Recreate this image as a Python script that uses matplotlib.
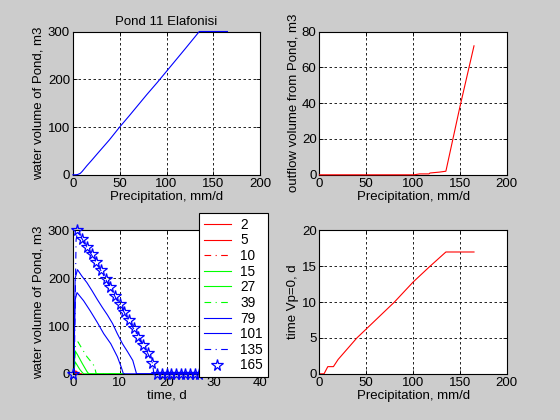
import numpy as np
import matplotlib.pyplot as plt

plt.rcParams['font.family'] = ['Liberation Sans', 'DejaVu Sans']
plt.rcParams['font.size'] = 9.5

# pond volume vs precipitation
precip = [0, 2, 5, 8, 10, 15, 20, 27, 39, 50, 60, 79, 90, 101, 120, 135, 150, 165]
pond_vol = [0, 0, 0.5, 3, 7, 19, 30, 46, 73, 100, 123, 168, 193, 219, 264, 300, 300, 300]

# outflow vs precipitation
precip_out = [0, 101, 107, 117, 118, 128, 135, 150, 165]
outflow = [0, 0, 0.5, 0.5, 1, 1.5, 2, 38, 72]

# time until Vp=0 vs precipitation
precip_t = [0, 5, 9, 15, 20, 30, 40, 60, 80, 100, 118, 135, 150, 165]
t_empty = [0, 0, 1, 1, 2, 3.5, 5, 7.5, 10, 12.8, 15, 17, 17, 17]

# pond volume over time, one run per precipitation value
labels = ['2', '5', '10', '15', '27', '39', '79', '101', '135', '165']
t_2 = [0, 0.5, 1, 1.8]
v_2 = [0, 0, 0, 0]
t_5 = [0, 0.3, 0.6, 1.2, 1.8]
v_5 = [0, 0, 1, 0.5, 0]
t_10 = [0, 0.3, 0.6, 1.0, 1.5, 2.0]
v_10 = [0, 0, 6, 4, 2, 0]
t_15 = [0, 0.2, 0.5, 1.0, 1.5, 2.0, 2.3, 11]
v_15 = [0, 0, 25, 17, 9, 3, 0, 0]
t_27 = [0, 0.2, 0.5, 1.0, 2.0, 3.0, 3.4, 11]
v_27 = [0, 0, 48, 40, 22, 5, 0, 0]
t_39 = [0, 0.2, 0.6, 1.1, 2.0, 3.0, 4.0, 4.6, 5.0, 11]
v_39 = [0, 0, 60, 67, 52, 36, 24, 16, 0, 0]
t_79 = [0, 0.2, 0.5, 0.9, 2.3, 3.7, 5.2, 6.6, 8.1, 9.5, 10.3, 10.8, 27]
v_79 = [0, 0, 155, 170, 153, 132, 108, 84, 63, 36, 15, 0, 0]
t_101 = [0, 0.2, 0.5, 1.0, 1.9, 3.0, 4.1, 5.2, 6.3, 7.4, 8.5, 9.5, 10.6, 11.7, 12.8, 13.6, 27]
v_101 = [0, 0, 200, 218, 205, 191, 174, 156, 139, 123, 105, 84, 63, 46, 28, 0, 0]
t_135 = [0, 0.3, 0.7, 1, 2, 3, 4, 5, 6, 7, 8, 9, 10, 11, 12, 13, 14, 15, 16, 17, 17.3, 27]
v_135 = [0, 0, 280, 298, 282, 265, 249, 233, 216, 198, 180, 162, 145, 128, 111, 94, 77, 60, 43, 22, 0, 0]
t_165 = list(range(0, 28))
v_165 = [0, 300, 283, 265, 250, 235, 217, 199, 181, 163, 146, 129, 112, 95, 78, 61, 44, 23,
         0, 0, 0, 0, 0, 0, 0, 0, 0, 0]

bg = '#cccccc'
dashdot = (0, (6, 4, 1, 4))
fig = plt.figure(figsize=(5.6, 4.2), dpi=100, facecolor=bg)


def style(ax):
    ax.set_facecolor('white')
    ax.grid(True, color='black', linestyle=(0, (3, 3)), linewidth=0.6)
    ax.tick_params(direction='in', top=True, right=True, length=3, width=0.6, pad=2)
    for s in ax.spines.values():
        s.set_linewidth(0.8)


ax1 = fig.add_axes([0.13, 0.5838, 0.3347, 0.3412])
ax1.plot(precip, pond_vol, color='blue', lw=0.8, clip_on=False, zorder=3)
ax1.set_xlim(0, 200)
ax1.set_ylim(0, 300)
ax1.set_xticks([0, 50, 100, 150, 200])
ax1.set_yticks([0, 100, 200, 300])
ax1.set_xlabel('Precipitation, mm/d', labelpad=1)
ax1.set_ylabel('water volume of Pond, m3', labelpad=2)
ax1.set_title('Pond 11 Elafonisi', fontsize=9.5, pad=5)
style(ax1)

ax2 = fig.add_axes([0.5703, 0.5838, 0.3347, 0.3412])
ax2.plot(precip_out, outflow, color='red', lw=0.8, clip_on=False, zorder=3)
ax2.set_xlim(0, 200)
ax2.set_ylim(0, 80)
ax2.set_xticks([0, 50, 100, 150, 200])
ax2.set_yticks([0, 20, 40, 60, 80])
ax2.set_xlabel('Precipitation, mm/d', labelpad=1)
ax2.set_ylabel('outflow volume from Pond, m3', labelpad=2)
style(ax2)

ax3 = fig.add_axes([0.13, 0.11, 0.3347, 0.3412])
ax3.plot(t_2, v_2, color='red', ls='-', lw=0.8, label=labels[0])
ax3.plot(t_5, v_5, color='red', ls='-', lw=0.8, label=labels[1])
ax3.plot(t_10, v_10, color='red', ls=dashdot, lw=0.8, label=labels[2])
ax3.plot(t_15, v_15, color='#00ff00', ls='-', lw=0.8, label=labels[3])
ax3.plot(t_27, v_27, color='#00ff00', ls='-', lw=0.8, label=labels[4])
ax3.plot(t_39, v_39, color='#00ff00', ls=dashdot, lw=0.8, label=labels[5])
ax3.plot(t_79, v_79, color='blue', ls='-', lw=0.8, label=labels[6])
ax3.plot(t_101, v_101, color='blue', ls='-', lw=0.8, label=labels[7])
ax3.plot(t_135, v_135, color='blue', ls=dashdot, lw=0.8, label=labels[8])
ax3.plot(t_165, v_165, color='blue', ls='none', marker='*', ms=8.5, mfc='none',
         mew=0.9, label=labels[9], clip_on=False, zorder=4)
ax3.set_xlim(0, 40)
ax3.set_ylim(0, 300)
ax3.set_xticks([0, 10, 20, 30, 40])
ax3.set_yticks([0, 100, 200, 300])
ax3.set_xlabel('time, d', labelpad=1)
ax3.set_ylabel('water volume of Pond, m3', labelpad=2)
style(ax3)

handles, labs = ax3.get_legend_handles_labels()
leg = fig.legend(handles, labs, loc='upper left', bbox_to_anchor=(0.355, 0.493),
                 frameon=True, fancybox=False, edgecolor='black', framealpha=1,
                 fontsize=9.8, handlelength=2.0, handletextpad=0.7,
                 labelspacing=0.12, borderpad=0.35, borderaxespad=0)
leg.get_frame().set_linewidth(0.8)
leg.set_zorder(10)

ax4 = fig.add_axes([0.5703, 0.11, 0.3347, 0.3412])
ax4.plot(precip_t, t_empty, color='red', lw=0.8)
ax4.set_xlim(0, 200)
ax4.set_ylim(0, 20)
ax4.set_xticks([0, 50, 100, 150, 200])
ax4.set_yticks([0, 5, 10, 15, 20])
ax4.set_xlabel('Precipitation, mm/d', labelpad=1)
ax4.set_ylabel('time Vp=0, d', labelpad=2)
style(ax4)

fig.savefig('out.png', dpi=100, facecolor=bg)
